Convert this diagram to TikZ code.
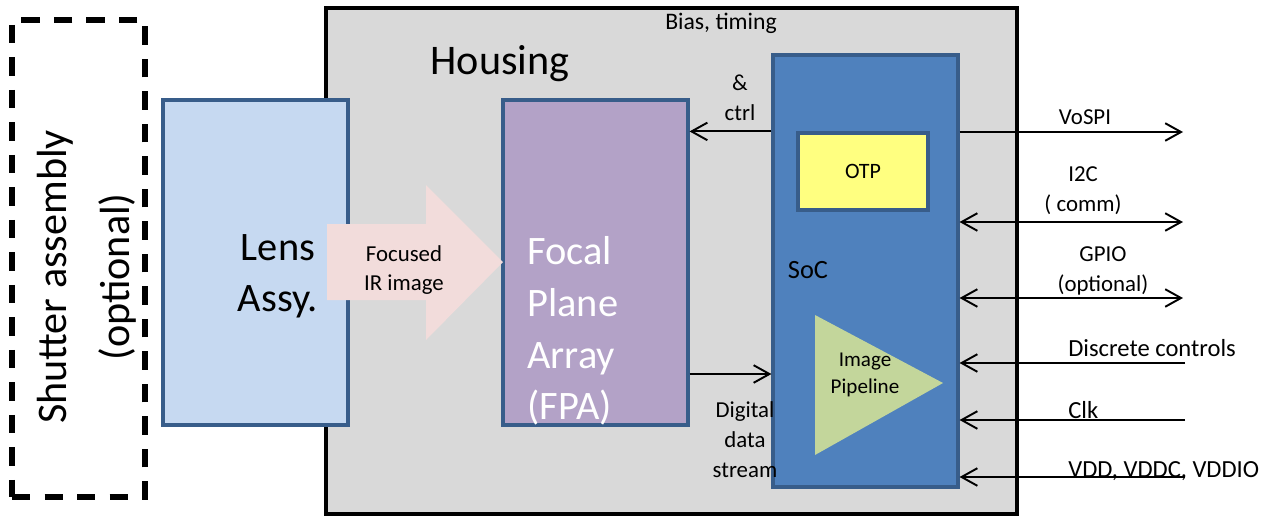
\documentclass[tikz,border=0pt]{standalone}
\usepackage{fontspec}
\setmainfont{Carlito}
\usepackage{tikz}
\usetikzlibrary{arrows.meta, positioning, shapes}
\definecolor{housegray}{HTML}{D9D9D9}
\definecolor{edgeblue}{HTML}{385D8A}
\definecolor{lensblue}{HTML}{C6D9F1}
\definecolor{fpapurple}{HTML}{B3A2C7}
\definecolor{socblue}{HTML}{4F81BD}
\definecolor{otpyellow}{HTML}{FFFF80}
\definecolor{pipegreen}{HTML}{C3D69B}
\definecolor{focuspink}{HTML}{F2DCDB}
\tikzstyle{block} = [rectangle, draw=edgeblue, line width=1.8pt, minimum width=3.7cm, minimum height=6.5cm]
\tikzstyle{arrow} = [line width=1.1pt, -{Straight Barb[length=9pt, width=10pt]}]
\tikzstyle{biarrow} = [arrow, {Straight Barb[length=9pt, width=10pt]}-{Straight Barb[length=9pt, width=10pt]}]
\tikzstyle{lbl} = [font=\fontsize{13}{17}\selectfont, align=center, inner sep=0pt]
\tikzstyle{sidelbl} = [lbl, anchor=west, font=\fontsize{14}{17}\selectfont]
\tikzstyle{big} = [font=\fontsize{23}{29}\selectfont, align=center, inner sep=0pt]

\begin{document}
\begin{tikzpicture}[x=0.02cm, y=-0.02cm]
\useasboundingbox (0,0) rectangle (1269,518);

\node(shutter)[rectangle, draw, dash pattern=on 10.5pt off 8pt, line width=3pt, minimum width=2.66cm, minimum height=9.54cm] at (78.5,258.5) {};
\node(shuttertext)[big, rotate=90, font=\fontsize{24}{36}\selectfont] at (87,277) {Shutter assembly\\(optional)};

\node(housing)[rectangle, draw, fill=housegray, line width=2.5pt, minimum width=13.82cm, minimum height=10.12cm] at (671.5,261) {};
\node(housingtext)[big, font=\fontsize{24}{29}\selectfont] at (500,64) {Housing};

\node(lens)[block, fill=lensblue] at (255.5,262.5) {};
\node(lenstext)[big] at (278,276) {Lens\\Assy.};

\node(fpa)[block, fill=fpapurple] at (595.5,262.5) {};
\node(fpatext)[big, text=white, align=left, anchor=west, font=\fontsize{23}{29.5}\selectfont] at (527,331) {Focal\\Plane\\Array\\(FPA)};

\fill[focuspink] (327,224) -- (426,224) -- (426,185) -- (503,262) -- (426,340) -- (426,300) -- (327,300) -- cycle;
\node(focustext)[lbl] at (404,270) {Focused\\IR image};

\node(soc)[block, fill=socblue, minimum height=8.64cm] at (865.5,271) {};
\node(soctext)[lbl, font=\fontsize{15}{18}\selectfont] at (808,270) {SoC};
\node(otp)[block, fill=otpyellow, minimum width=2.6cm, minimum height=1.54cm, font=\fontsize{12.5}{15}\selectfont] at (863,171.5) {OTP};

\fill[pipegreen] (815,315) -- (943,383) -- (815,455) -- cycle;
\node(pipetext)[lbl, font=\fontsize{12}{15.3}\selectfont] at (865,375) {Image\\Pipeline};

\draw[arrow] (soc.west |- otp.north) -- (fpa.east |- otp.north);
\node(biastext)[lbl, font=\fontsize{13.5}{17}\selectfont] at (721,23) {Bias, timing};
\node(ctrltext)[lbl] at (740,98) {\&\\ctrl};

\coordinate (dig) at (700,374);
\draw[arrow] (fpa.east |- dig) -- (soc.west |- dig);
\node(digtext)[lbl] at (745,440) {Digital\\data\\stream};

\coordinate (vospi) at (1183,132);
\coordinate (itwoc) at (1183,222);
\coordinate (gpio) at (1183,298);
\coordinate (discrete) at (1185,363);
\coordinate (clk) at (1185,420);
\coordinate (vdd) at (1185,477);

\draw[arrow] (soc.east |- vospi) -- (vospi);
\draw[biarrow] (soc.east |- itwoc) -- (itwoc);
\draw[biarrow] (soc.east |- gpio) -- (gpio);
\draw[arrow] (discrete) -- (soc.east |- discrete);
\draw[arrow] (clk) -- (soc.east |- clk);
\draw[arrow] (vdd) -- (soc.east |- vdd);

\node(vospitext)[lbl] at (1085,117) {VoSPI};
\node(itwoctext)[lbl] at (1083,191) {I2C\\( comm)};
\node(gpiotext)[lbl] at (1103,271) {GPIO\\(optional)};
\node(discretetext)[sidelbl] at (1068,348) {Discrete controls};
\node(clktext)[sidelbl] at (1068,410) {Clk};
\node(vddtext)[sidelbl] at (1068,471) {VDD, VDDC, VDDIO};

\end{tikzpicture}
\end{document}
